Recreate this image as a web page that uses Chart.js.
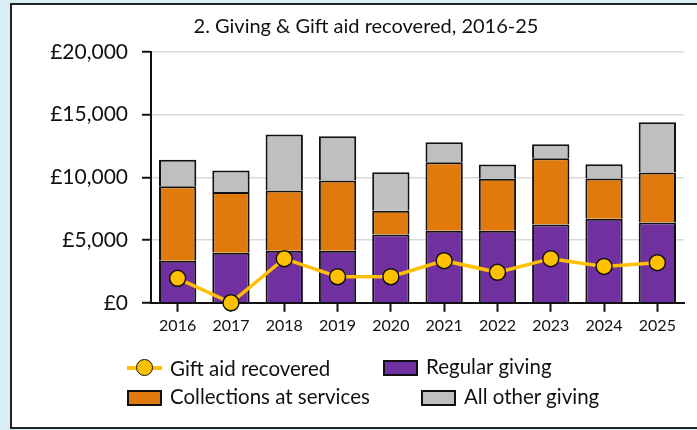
<!DOCTYPE html>
<html>
<head>
<meta charset="utf-8">
<script src="https://cdn.jsdelivr.net/npm/chart.js@4"></script>
<style>
    html, body { margin: 0; padding: 0; }
    body { width: 697px; height: 430px; background: #daeef3; position: relative; overflow: hidden; font-family: Lato, "Open Sans", sans-serif; }
    #panel { position: absolute; left: 10px; top: 3px; width: 700px; height: 422px; background: #fff; border: 2px solid #222; }
    #chart-wrap { position: absolute; left: 0; top: 0; width: 697px; height: 430px; }
    .lg { position: absolute; font-size: 20.5px; color: #111; line-height: 22px; white-space: nowrap; }
    .lg .box { position: absolute; left: 0; top: 2px; width: 31px; height: 12px; border: 2px solid #111; }
    .lg .txt { position: absolute; left: 43px; top: -3px; }
    .lg .ln { position: absolute; left: 0; top: 6px; width: 35px; height: 4px; background: #ffc000; }
    .lg .dot { position: absolute; left: 9px; top: -1px; width: 15px; height: 15px; border-radius: 50%; background: #ffc000; border: 1.5px solid #111; }
</style>
</head>
<body>
<div id="panel"></div>
<div id="chart-wrap"><canvas id="giving-chart" width="697" height="430"></canvas></div>
<div id="legend"></div>

<script>
// Values (pounds)
var years = ['2016', '2017', '2018', '2019', '2020', '2021', '2022', '2023', '2024', '2025'];
var regularGiving = [3350, 4000, 4150, 4150, 5450, 5750, 5750, 6250, 6700, 6400];
var collections = [5950, 4830, 4800, 5600, 1900, 5450, 4150, 5270, 3220, 4000];
var otherGiving = [2100, 1730, 4480, 3530, 3070, 1600, 1120, 1120, 1120, 4000];
var giftAid = [1950, 0, 3520, 2080, 2080, 3360, 2430, 3520, 2900, 3200];
var yTicks = [0, 5000, 10000, 15000, 20000];

var purple = '#7030a0';
var orange = '#e07a0c';
var grey = '#bfbfbf';
var gold = '#ffc000';
var fontName = 'Lato';

function barSet(label, data, colour) {
    return {
        type: 'bar',
        label: label,
        data: data,
        backgroundColor: colour,
        borderColor: '#111',
        borderWidth: 2,
        borderSkipped: 'start',
        stack: 'giving',
        categoryPercentage: 1,
        barPercentage: 0.7,
        order: 1
    };
}

var ctx = document.getElementById('giving-chart').getContext('2d');
var chart = new Chart(ctx, {
    data: {
        labels: years,
        datasets: [
            {
                type: 'line',
                label: 'Gift aid recovered',
                data: giftAid,
                borderColor: gold,
                borderWidth: 3.5,
                backgroundColor: gold,
                pointBackgroundColor: gold,
                pointBorderColor: '#111',
                pointBorderWidth: 1.5,
                pointRadius: 8,
                tension: 0,
                stack: 'gift',
                clip: false,
                order: 0
            },
            barSet('Regular giving', regularGiving, purple),
            barSet('Collections at services', collections, orange),
            barSet('All other giving', otherGiving, grey)
        ]
    },
    options: {
        responsive: false,
        animation: false,
        layout: { padding: { left: 48, right: 13, top: 0, bottom: 91 } },
        plugins: {
            legend: { display: false },
            tooltip: { enabled: false },
            title: {
                display: true,
                text: '2. Giving & Gift aid recovered, 2016-25',
                color: '#111',
                font: { family: fontName, size: 20, weight: 'normal' },
                padding: { top: 15, bottom: 13 }
            }
        },
        scales: {
            x: {
                stacked: true,
                offset: true,
                grid: { drawOnChartArea: false, offset: false, tickLength: 9, tickColor: '#111', tickWidth: 2 },
                border: { color: '#111', width: 2 },
                ticks: { color: '#111', padding: 4, maxRotation: 0, font: { family: fontName, size: 16 } }
            },
            y: {
                stacked: true,
                min: 0,
                max: 20000,
                afterBuildTicks: function (scale) {
                    scale.ticks = yTicks.map(function (v) { return { value: v }; });
                },
                afterFit: function (scale) { scale.width = 103; },
                grid: { color: '#d9d9d9', lineWidth: 1.5, tickLength: 9, tickColor: '#111', tickWidth: 2 },
                border: { color: '#111', width: 2 },
                ticks: {
                    color: '#111',
                    padding: 14,
                    font: { family: fontName, size: 21 },
                    callback: function (v) { return '£' + v.toLocaleString('en-GB'); }
                }
            }
        }
    }
});

// Legend drawn as HTML, two rows like the original
var legendItems = [
    { text: 'Gift aid recovered', line: true, x: 127, y: 360 },
    { text: 'Regular giving', colour: purple, x: 383, y: 358 },
    { text: 'Collections at services', colour: orange, x: 127, y: 388 },
    { text: 'All other giving', colour: grey, x: 421, y: 388 }
];
var legend = document.getElementById('legend');
legendItems.forEach(function (item) {
    var el = document.createElement('div');
    el.className = 'lg';
    el.style.left = item.x + 'px';
    el.style.top = item.y + 'px';
    if (item.line) {
        el.innerHTML = '<div class="ln"></div><div class="dot"></div><div class="txt">' + item.text + '</div>';
    } else {
        el.innerHTML = '<div class="box" style="background:' + item.colour + '"></div><div class="txt">' + item.text + '</div>';
    }
    legend.appendChild(el);
});
</script>
</body>
</html>
